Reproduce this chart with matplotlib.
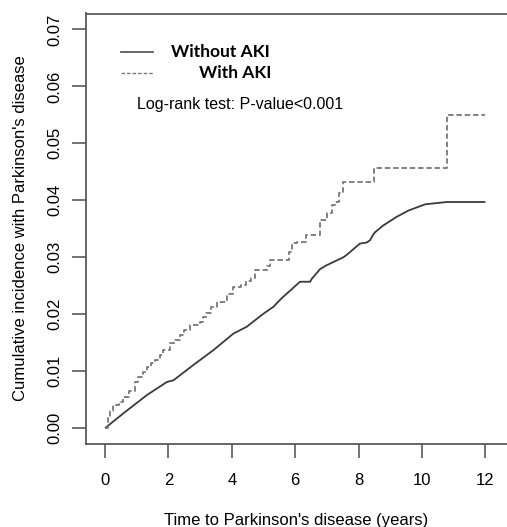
import matplotlib
matplotlib.use("Agg")
import matplotlib.pyplot as plt

# Without AKI: cumulative incidence
t_no_aki = [0, 0.58, 1.32, 1.95, 2.16, 2.79, 3.42, 4.05, 4.47, 5.0, 5.31, 5.57,
            5.73, 6.15, 6.47, 6.52, 6.78, 6.99, 7.52, 7.62, 7.83, 8.04, 8.26,
            8.36, 8.46, 8.52, 8.78, 9.2, 9.57, 10.1, 10.78, 12.0]
y_no_aki = [0, 0.0026, 0.0058, 0.0081, 0.0084, 0.0111, 0.0137, 0.0166, 0.0178,
            0.0201, 0.0213, 0.0228, 0.0236, 0.0257, 0.0257, 0.0262, 0.0279,
            0.0286, 0.0300, 0.0304, 0.0314, 0.0324, 0.0326, 0.0330, 0.0340,
            0.0344, 0.0356, 0.0371, 0.0382, 0.0393, 0.0397, 0.0397]

# With AKI: step function (event time, value after the event)
t_aki = [0, 0.08, 0.16, 0.26, 0.45, 0.58, 0.75, 0.95, 1.05, 1.2, 1.32, 1.45,
         1.58, 1.72, 1.84, 2.05, 2.2, 2.37, 2.5, 2.68, 3.0, 3.1, 3.2, 3.35,
         3.52, 3.84, 4.05, 4.3, 4.45, 4.6, 4.73, 5.1, 5.2, 5.8, 5.9, 6.04,
         6.34, 6.78, 7.01, 7.15, 7.26, 7.39, 7.5, 8.49, 10.78, 12.0]
y_aki = [0, 0.0020, 0.0030, 0.0040, 0.0045, 0.0055, 0.0065, 0.0081, 0.0090,
         0.0098, 0.0108, 0.0115, 0.0119, 0.0128, 0.0137, 0.0149, 0.0155,
         0.0163, 0.0172, 0.0181, 0.0187, 0.0195, 0.0202, 0.0212, 0.0222,
         0.0236, 0.0248, 0.0252, 0.0258, 0.0263, 0.0277, 0.0285, 0.0295,
         0.0310, 0.0325, 0.0327, 0.0339, 0.0365, 0.0377, 0.0391, 0.0397,
         0.0412, 0.0432, 0.0457, 0.0550, 0.0550]

x_ticks = [0, 2, 4, 6, 8, 10, 12]
y_ticks = [0.00, 0.01, 0.02, 0.03, 0.04, 0.05, 0.06, 0.07]

plt.rcParams['font.family'] = ['Liberation Sans', 'DejaVu Sans']

fig = plt.figure(figsize=(5.07, 5.27), dpi=100)
ax = fig.add_axes([86 / 507, 1 - 443.5 / 527, 1 - 86 / 507, (443.5 - 13.5) / 527])

gray = '#5a5a5a'
ax.plot(t_no_aki, y_no_aki, color='#3a3a3a', lw=1.3, solid_capstyle='butt')
ax.step(t_aki, y_aki, where='post', color='#777777', lw=1.3, linestyle=(0, (3, 1.6)))

ax.set_xlim(-0.6, 12.68)
ax.set_ylim(-0.0027, 0.0728)
ax.set_xticks(x_ticks)
ax.set_xticklabels([str(v) for v in x_ticks], fontsize=12)
ax.set_yticks(y_ticks)
ax.set_yticklabels(['%.2f' % v for v in y_ticks], fontsize=12, rotation=90, va='center')

ax.spines['right'].set_visible(False)
for s in ['left', 'top', 'bottom']:
    ax.spines[s].set_color(gray)
    ax.spines[s].set_linewidth(1.3)
ax.tick_params(axis='both', color=gray, width=1.2, length=10)
ax.tick_params(axis='x', pad=11)
ax.tick_params(axis='y', pad=7)

ax.set_xlabel("Time to Parkinson's disease (years)", fontsize=12, labelpad=18)
ax.set_ylabel("Cumulative incidence with Parkinson's disease", fontsize=12, labelpad=14)

# legend drawn by hand like the R plot
ax.plot([0.5, 1.5], [0.0660, 0.0660], color=gray, lw=1.3)
ax.plot([0.5, 1.5], [0.0624, 0.0624], color='#777777', lw=1.0, linestyle=(0, (2.5, 1.5)))
ax.text(2.08, 0.0660, 'Without AKI', fontsize=12.5, fontweight='bold', family=['Lato', 'DejaVu Sans'], va='center')
ax.text(2.95, 0.0624, 'With AKI', fontsize=12.5, fontweight='bold', family=['Lato', 'DejaVu Sans'], va='center')
ax.text(1.0, 0.0569, 'Log-rank test: P-value<0.001', fontsize=11.5, va='center')

fig.savefig('out.png', dpi=100)
